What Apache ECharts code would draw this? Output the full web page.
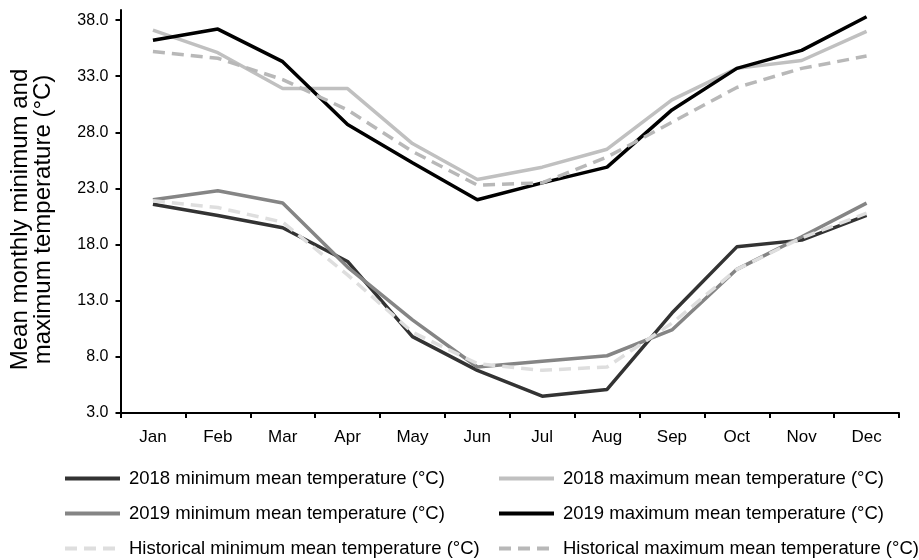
<!DOCTYPE html>
<html>
<head>
<meta charset="utf-8">
<script src="https://cdn.jsdelivr.net/npm/echarts@6/dist/echarts.min.js"></script>
<style>
  html, body { margin: 0; padding: 0; background: #fff; }
  #chart { width: 919px; height: 560px; }
</style>
</head>
<body>
<div id="chart"></div>
<script>
var months = ['Jan', 'Feb', 'Mar', 'Apr', 'May', 'Jun', 'Jul', 'Aug', 'Sep', 'Oct', 'Nov', 'Dec'];
var yTicks = [3, 8, 13, 18, 23, 28, 33, 38];

var min2018 = [21.6, 20.6, 19.5, 16.5, 9.8, 6.8, 4.5, 5.1, 11.9, 17.8, 18.4, 20.6];
var min2019 = [22.0, 22.8, 21.7, 16.0, 11.3, 7.1, 7.6, 8.1, 10.4, 15.8, 18.7, 21.7];
var minHist = [21.9, 21.3, 20.0, 15.3, 10.2, 7.4, 6.8, 7.1, 11.0, 15.8, 18.6, 20.8];
var max2018 = [37.1, 35.1, 31.9, 31.9, 27.0, 23.8, 24.9, 26.5, 30.9, 33.7, 34.4, 37.0];
var max2019 = [36.2, 37.2, 34.3, 28.7, 25.3, 22.0, 23.5, 24.9, 30.0, 33.7, 35.3, 38.3];
var maxHist = [35.2, 34.6, 32.7, 30.0, 26.3, 23.3, 23.5, 25.8, 28.9, 32.0, 33.7, 34.8];

var font = 'Liberation Sans, Arial, sans-serif';

function line(name, data, color, dashed) {
    return {
        name: name,
        type: 'line',
        data: data,
        symbol: 'none',
        silent: true,
        lineStyle: { color: color, width: 3.5, type: dashed ? [12, 7] : 'solid' },
        itemStyle: { color: color, opacity: 0 }
    };
}

// one column of legend items; symbols hidden so only the line sample shows
function legendCol(left, names) {
    return {
        left: left, top: 469, orient: 'vertical', padding: 0,
        itemWidth: 55, itemHeight: 14, itemGap: 16,
        itemStyle: { opacity: 0 },
        lineStyle: { opacity: 1, width: 4 },
        textStyle: { fontSize: 18.5, color: '#000', fontFamily: font, padding: [0, 0, 0, 4] },
        data: names
    };
}

var chart = echarts.init(document.getElementById('chart'));

var option = {
    animation: false,
    backgroundColor: '#fff',
    textStyle: { fontFamily: font, color: '#000' },
    grid: { left: 119, right: 20, top: 10, bottom: 147 },
    legend: [
        legendCol(63, ['2018 minimum mean temperature (°C)', '2019 minimum mean temperature (°C)', 'Historical minimum mean temperature (°C)']),
        legendCol(497, ['2018 maximum mean temperature (°C)', '2019 maximum mean temperature (°C)', 'Historical maximum mean temperature (°C)'])
    ],
    xAxis: {
        type: 'category',
        data: months,
        boundaryGap: true,
        axisLine: { lineStyle: { color: '#000', width: 2 } },
        axisTick: { show: true, length: 5, lineStyle: { color: '#000', width: 2 } },
        axisLabel: { fontSize: 17, color: '#000', margin: 16, fontFamily: font },
        splitLine: { show: false }
    },
    yAxis: {
        type: 'value',
        min: 3,
        max: 38.9,
        name: 'Mean monthly minimum and\nmaximum temperature (°C)',
        nameLocation: 'middle',
        nameGap: 66,
        nameTextStyle: { fontSize: 24, lineHeight: 23, color: '#000', fontFamily: font, padding: [0, 16, 0, 0] },
        axisLine: { show: true, lineStyle: { color: '#000', width: 2 } },
        axisTick: { show: true, length: 5, customValues: yTicks, lineStyle: { color: '#000', width: 2 } },
        axisLabel: {
            fontSize: 16, color: '#000', margin: 12, fontFamily: font,
            customValues: yTicks,
            formatter: function (v) { return v.toFixed(1); }
        },
        splitLine: { show: false }
    },
    series: [
        line('2018 minimum mean temperature (°C)', min2018, '#333333', false),
        line('2018 maximum mean temperature (°C)', max2018, '#c0c0c0', false),
        line('2019 minimum mean temperature (°C)', min2019, '#858585', false),
        line('2019 maximum mean temperature (°C)', max2019, '#000000', false),
        line('Historical minimum mean temperature (°C)', minHist, '#dedede', true),
        line('Historical maximum mean temperature (°C)', maxHist, '#b8b8b8', true)
    ]
};

chart.setOption(option);
</script>
</body>
</html>
